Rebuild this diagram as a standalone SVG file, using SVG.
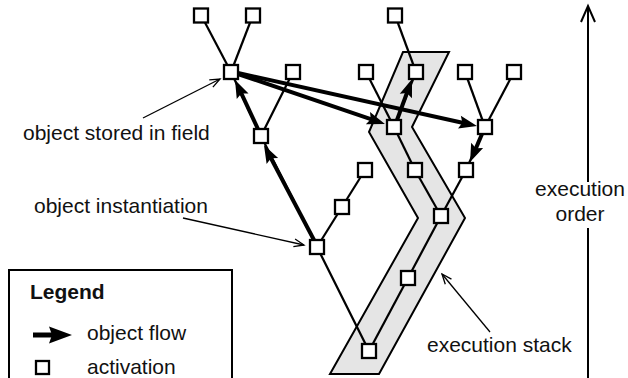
<svg xmlns="http://www.w3.org/2000/svg" width="628" height="378" viewBox="0 0 628 378">
<defs>
<style>
.edge{stroke:#000;stroke-width:2.2;fill:none}
.flow{stroke:#000;stroke-width:4;fill:none;marker-end:url(#solid)}
.note{stroke:#000;stroke-width:1.3;fill:none;marker-end:url(#open)}
.box{fill:#fff;stroke:#000;stroke-width:2.3}
text{font-family:"Liberation Sans",Arial,Helvetica,sans-serif;font-size:21px;fill:#111}
</style>
<marker id="solid" markerUnits="userSpaceOnUse" markerWidth="20" markerHeight="14" refX="10" refY="6.5" orient="auto" overflow="visible">
<path d="M0,0 L18,6.5 L0,13 L3,6.5 z" fill="#000"/>
</marker>
<marker id="solidbig" markerUnits="userSpaceOnUse" markerWidth="24" markerHeight="18" refX="15" refY="8.5" orient="auto" overflow="visible">
<path d="M0,0 L23,8.5 L0,17 L3,8.5 z" fill="#000"/>
</marker>
<marker id="open" markerUnits="userSpaceOnUse" markerWidth="12" markerHeight="10" refX="10" refY="4" orient="auto" overflow="visible">
<path d="M0,0 L10,4 L0,8" fill="none" stroke="#000" stroke-width="1.3"/>
</marker>
<marker id="openbig" markerUnits="userSpaceOnUse" markerWidth="18" markerHeight="16" refX="16" refY="7" orient="auto" overflow="visible">
<path d="M0,0 L16,7 L0,14" fill="none" stroke="#000" stroke-width="2"/>
</marker>
</defs>
<rect width="628" height="378" fill="#fff"/>

<g id="execution-stack">
<polygon points="403,52 449,52 412,127 465,218 379,374 330,374 418,218 369,132" fill="#e5e5e5" stroke="#000" stroke-width="2" stroke-linejoin="miter"/>
</g>

<g id="connectors">
<line class="edge" x1="231" y1="72" x2="201" y2="15"/>
<line class="edge" x1="231" y1="72" x2="253" y2="15"/>
<line class="edge" x1="261" y1="136" x2="293" y2="72"/>
<line class="edge" x1="261" y1="136" x2="231" y2="72"/>
<line class="edge" x1="317" y1="247" x2="261" y2="136"/>
<line class="edge" x1="317" y1="247" x2="342" y2="207"/>
<line class="edge" x1="342" y1="207" x2="365" y2="170"/>
<line class="edge" x1="317" y1="247" x2="369" y2="351"/>
<line class="edge" x1="369" y1="351" x2="408" y2="278"/>
<line class="edge" x1="408" y1="278" x2="441" y2="216"/>
<line class="edge" x1="441" y1="216" x2="415" y2="170"/>
<line class="edge" x1="441" y1="216" x2="466" y2="170"/>
<line class="edge" x1="415" y1="170" x2="394" y2="127"/>
<line class="edge" x1="394" y1="127" x2="366" y2="72"/>
<line class="edge" x1="394" y1="127" x2="416" y2="72"/>
<line class="edge" x1="416" y1="72" x2="395" y2="15"/>
<line class="edge" x1="466" y1="170" x2="485" y2="127"/>
<line class="edge" x1="485" y1="127" x2="465" y2="72"/>
<line class="edge" x1="485" y1="127" x2="514" y2="72"/>

<line class="flow" x1="314" y1="240" x2="267.7" y2="152.1"/>
<line class="flow" x1="258" y1="129" x2="238.4" y2="87.2"/>
<line class="flow" x1="238" y1="74" x2="377.4" y2="121.4"/>
<line class="flow" x1="238" y1="73" x2="469.2" y2="124.3"/>
<line class="flow" x1="397" y1="120" x2="409.3" y2="86.5"/>
<line class="flow" x1="482" y1="134" x2="473.2" y2="154.6"/>

<line class="note" x1="143" y1="118" x2="220" y2="79"/>
<line class="note" x1="183" y1="218" x2="304" y2="245"/>
<line class="note" x1="490" y1="332" x2="442" y2="274"/>

<line x1="588" y1="182" x2="588" y2="6" stroke="#000" stroke-width="2" marker-end="url(#openbig)"/>
<line x1="588" y1="228" x2="588" y2="378" stroke="#000" stroke-width="2"/>
</g>

<g id="nodes">
<rect id="nA" class="box" x="194" y="8.5" width="14" height="14"/>
<rect id="nB" class="box" x="246" y="8.5" width="14" height="14"/>
<rect id="nM" class="box" x="224" y="65" width="14" height="14"/>
<rect id="nB2" class="box" x="286" y="65" width="14" height="14"/>
<rect id="nC" class="box" x="254" y="129" width="14" height="14"/>
<rect id="nI" class="box" x="310" y="240" width="14" height="14"/>
<rect id="nJ" class="box" x="335" y="200" width="14" height="14"/>
<rect id="nD" class="box" x="358" y="163" width="14" height="14"/>
<rect id="nBot" class="box" x="362" y="344" width="14" height="14"/>
<rect id="nS2" class="box" x="401" y="271" width="14" height="14"/>
<rect id="nS3" class="box" x="434" y="209" width="14" height="14"/>
<rect id="nS4" class="box" x="408" y="163" width="14" height="14"/>
<rect id="nR2" class="box" x="459" y="163" width="14" height="14"/>
<rect id="nN" class="box" x="387" y="120" width="14" height="14"/>
<rect id="nP" class="box" x="478" y="120" width="14" height="14"/>
<rect id="nK1" class="box" x="359" y="65" width="14" height="14"/>
<rect id="nQ" class="box" x="409" y="65" width="14" height="14"/>
<rect id="nT" class="box" x="388" y="8.5" width="14" height="14"/>
<rect id="nP1" class="box" x="458" y="65" width="14" height="14"/>
<rect id="nP2" class="box" x="507" y="65" width="14" height="14"/>
</g>

<g id="labels">
<text x="23" y="140">object stored in field</text>
<text x="34" y="213">object instantiation</text>
<text x="427" y="352">execution stack</text>
<text x="580" y="196" text-anchor="middle">execution</text>
<text x="580" y="221" text-anchor="middle">order</text>
</g>

<g id="legend">
<rect x="9" y="270" width="223" height="120" fill="#fff" stroke="#000" stroke-width="2"/>
<text x="30" y="299" font-weight="bold" font-size="20.5">Legend</text>
<line x1="33" y1="335" x2="64" y2="335" stroke="#000" stroke-width="5" marker-end="url(#solidbig)"/>
<text x="87" y="340">object flow</text>
<rect class="box" x="36" y="361" width="13" height="13"/>
<text x="87" y="374">activation</text>
</g>
</svg>
